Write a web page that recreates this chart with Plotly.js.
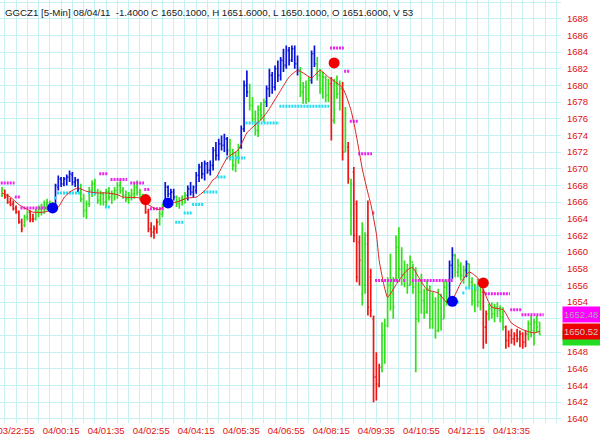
<!DOCTYPE html>
<html><head><meta charset="utf-8">
<script src="https://cdn.plot.ly/plotly-3.0.1.min.js"></script>
<style>html,body{margin:0;padding:0;background:#fff}#chart{width:600px;height:438px}</style>
</head><body><div id="chart"></div>
<script>
// ---- OHLC data (one entry per 5-minute bar, bar 0 = 03/22:30) ----
const barOpen = [
1666.8,1667.4,1666.7,1666.0,1665.8,1665.3,1664.8,1663.6,1663.2,1664.2,
1664.8,1664.0,1664.0,1664.8,1665.2,1665.4,1665.8,1665.9,1665.2,1665.6,
1667.8,1668.8,1668.2,1668.8,1669.0,1669.3,1668.4,1668.6,1667.6,1666.4,
1665.0,1665.8,1667.4,1668.2,1667.2,1666.2,1667.0,1666.0,1667.2,1666.6,
1667.0,1667.4,1668.0,1667.4,1666.8,1666.4,1666.8,1667.0,1667.8,1667.2,
1666.6,1666.0,1664.8,1662.8,1662.4,1662.8,1663.6,1664.6,1665.8,1667.8,
1667.0,1667.2,1666.6,1665.8,1666.2,1666.4,1666.8,1667.6,1667.2,1667.4,
1669.2,1670.2,1669.4,1670.6,1669.8,1670.4,1672.2,1671.6,1673.0,1672.8,
1673.6,1672.2,1671.4,1670.4,1671.4,1672.6,1674.8,1680.0,1679.2,1677.6,
1676.0,1674.6,1677.0,1676.4,1678.0,1679.6,1681.2,1679.8,1682.0,1681.2,
1683.0,1682.4,1684.2,1683.0,1684.4,1682.6,1681.8,1679.2,1679.8,1678.4,
1680.6,1683.8,1682.6,1681.2,1679.6,1681.0,1678.8,1680.2,1675.8,1680.2,
1679.0,1679.6,1672.0,1672.6,1662.6,1669.6,1665.8,1661.2,1655.0,1656.0,
1662.0,1657.0,1652.0,1645.0,1644.0,1646.2,1650.0,1651.2,1656.0,1655.0,
1656.8,1660.6,1658.0,1657.2,1657.8,1656.0,1658.8,1655.8,1652.0,1655.2,
1654.2,1652.8,1655.6,1652.0,1654.0,1650.6,1654.8,1652.0,1655.8,1654.2,
1658.4,1659.6,1657.6,1658.4,1657.2,1657.8,1658.6,1656.4,1654.2,1655.4,
1654.0,1655.2,1651.0,1652.6,1653.2,1652.6,1653.4,1653.0,1652.2,1651.0,
1649.4,1650.0,1649.6,1650.0,1649.6,1650.2,1649.2,1650.2,1651.4,1650.6,
1651.6,1651.6];
const barHigh = [
1667.8,1667.5,1667.0,1666.5,1666.2,1665.6,1665.0,1664.0,1664.5,1665.0,
1665.0,1664.6,1665.2,1665.6,1665.8,1666.2,1666.4,1666.2,1666.0,1668.2,
1669.2,1669.0,1669.0,1669.3,1669.8,1669.6,1669.0,1668.8,1668.2,1667.0,
1666.2,1667.8,1668.6,1668.8,1667.6,1667.4,1667.2,1667.6,1667.8,1667.4,
1667.8,1668.4,1668.8,1667.8,1667.4,1667.2,1667.6,1668.2,1668.6,1667.6,
1667.0,1666.4,1665.2,1663.6,1663.2,1664.0,1665.0,1665.8,1668.4,1668.0,
1667.6,1667.6,1666.8,1666.6,1666.8,1667.2,1668.0,1668.4,1668.0,1669.6,
1670.6,1670.8,1671.0,1670.8,1671.0,1672.6,1673.2,1673.6,1674.0,1674.2,
1673.8,1673.6,1672.4,1672.0,1673.0,1675.2,1680.6,1681.8,1680.2,1678.6,
1677.0,1677.6,1678.0,1678.4,1680.0,1682.0,1681.6,1682.4,1683.0,1683.4,
1684.4,1684.8,1684.6,1684.8,1684.8,1683.6,1682.2,1680.4,1680.6,1681.0,
1684.2,1684.8,1683.4,1682.0,1681.6,1681.2,1680.8,1681.0,1680.8,1681.2,
1680.6,1680.4,1677.4,1673.2,1668.8,1670.2,1666.2,1662.0,1663.6,1662.4,
1666.2,1658.0,1652.4,1648.0,1646.6,1651.6,1652.0,1657.0,1659.8,1657.0,
1662.0,1663.0,1660.6,1659.0,1658.6,1659.6,1658.6,1658.2,1656.4,1657.4,
1655.6,1656.6,1656.0,1655.2,1654.6,1655.6,1655.0,1656.6,1656.6,1659.0,
1660.6,1659.8,1659.2,1658.8,1658.4,1659.0,1658.6,1657.0,1656.2,1656.8,
1656.4,1655.6,1653.0,1653.8,1654.0,1653.8,1654.0,1653.6,1653.4,1651.2,
1650.6,1650.8,1650.4,1650.8,1650.6,1650.4,1650.6,1651.8,1652.4,1652.0,
1652.4,1651.6];
const barLow = [
1666.6,1666.4,1665.8,1665.5,1665.0,1664.6,1663.4,1662.4,1663.0,1663.8,
1663.6,1663.6,1663.8,1664.2,1664.4,1664.6,1665.0,1664.8,1664.8,1665.4,
1667.4,1667.8,1667.9,1668.0,1668.4,1668.0,1667.8,1667.2,1666.0,1664.2,
1664.0,1665.4,1666.6,1666.8,1665.8,1665.6,1665.6,1665.4,1666.2,1665.8,
1666.2,1666.4,1667.0,1666.4,1666.0,1665.8,1666.2,1666.4,1666.8,1666.2,
1665.8,1664.6,1662.4,1661.8,1661.6,1662.2,1663.2,1664.2,1665.6,1666.6,
1666.4,1666.2,1665.4,1665.2,1665.6,1665.8,1666.2,1666.8,1666.6,1667.0,
1668.4,1668.8,1668.6,1669.4,1669.2,1669.8,1671.0,1671.0,1672.2,1672.0,
1671.6,1671.0,1669.8,1669.6,1670.6,1672.4,1674.4,1678.6,1677.0,1675.6,
1674.0,1673.8,1675.8,1675.6,1677.4,1678.6,1679.0,1679.4,1680.4,1680.6,
1681.6,1682.0,1682.4,1682.8,1682.0,1681.2,1678.6,1677.8,1677.8,1678.0,
1680.2,1682.2,1680.6,1679.0,1678.4,1678.0,1678.0,1673.4,1675.4,1678.4,
1677.0,1671.0,1672.0,1668.2,1662.0,1661.2,1656.4,1656.0,1653.6,1655.0,
1652.4,1652.2,1642.0,1642.2,1643.8,1645.6,1646.6,1651.0,1653.0,1652.0,
1656.4,1656.8,1656.0,1655.8,1655.0,1656.0,1655.0,1645.6,1651.6,1652.6,
1652.0,1652.6,1650.8,1650.8,1649.6,1650.4,1650.6,1652.0,1653.6,1654.0,
1656.8,1657.0,1657.0,1656.6,1656.2,1657.0,1655.8,1653.6,1652.8,1653.4,
1653.0,1648.4,1649.0,1651.8,1652.0,1651.6,1652.2,1651.6,1650.6,1648.4,
1648.6,1649.0,1648.8,1649.2,1648.6,1648.4,1648.6,1649.4,1649.8,1648.8,
1650.4,1650.1];
const barClose = [
1667.6,1666.6,1666.0,1665.7,1665.2,1664.8,1663.6,1662.8,1664.2,1664.8,
1663.9,1664.0,1665.0,1665.3,1665.6,1665.9,1666.0,1665.3,1665.8,1668.0,
1668.8,1668.2,1668.8,1669.0,1669.4,1668.4,1668.6,1667.6,1666.4,1665.0,
1665.8,1667.4,1668.2,1667.2,1666.2,1667.0,1666.0,1667.2,1666.6,1667.0,
1667.4,1668.0,1667.4,1666.8,1666.4,1666.8,1667.0,1667.8,1667.2,1666.6,
1666.0,1664.8,1662.8,1662.4,1662.8,1663.6,1664.6,1665.4,1667.8,1667.0,
1667.2,1666.6,1665.8,1666.2,1666.4,1666.8,1667.6,1667.2,1667.8,1669.2,
1670.2,1669.4,1670.6,1669.8,1670.4,1672.2,1671.6,1673.0,1672.8,1673.6,
1672.2,1671.4,1670.4,1671.4,1672.6,1674.8,1680.0,1679.2,1677.6,1676.0,
1674.6,1677.0,1676.4,1678.0,1679.6,1681.2,1679.8,1682.0,1681.2,1683.0,
1682.4,1684.2,1683.0,1684.4,1682.6,1681.8,1679.2,1679.8,1678.4,1680.6,
1683.8,1682.6,1681.2,1679.6,1681.0,1678.8,1680.2,1675.8,1680.2,1679.0,
1679.6,1672.0,1676.6,1668.8,1668.2,1662.0,1657.0,1659.0,1662.8,1661.0,
1653.4,1653.0,1645.0,1644.2,1646.2,1650.0,1651.2,1656.0,1655.0,1653.4,
1660.6,1658.0,1657.2,1657.8,1656.0,1658.8,1655.8,1652.0,1655.2,1654.2,
1652.8,1655.6,1652.0,1654.0,1650.6,1654.8,1652.0,1655.8,1654.2,1658.4,
1659.6,1657.6,1658.4,1657.2,1657.8,1658.6,1656.4,1654.2,1655.4,1654.0,
1655.8,1651.0,1652.6,1653.2,1652.6,1653.4,1653.0,1652.2,1651.0,1649.4,
1650.0,1649.6,1650.0,1649.6,1650.2,1649.2,1650.2,1651.4,1650.6,1651.6,
1651.0,1650.1];
// trend colour of each bar: B = blue, G = green, R = red
const barTrend = ["G","RRRRRRR","GG","RR","GGGGGGG","BBBBBBBBB","GGGGGGGGGGGGGGGGGGGGGGG",
 "RRRRR","GG","BBBB","GGGG","BBBBBBBBBBBBBBB","GGGG","BBB","GGGGGG","BBBBBBBBBBBB","GGGG","BB",
 "GGGGG","R","GGG","R","G","R","G","RRR","GG","RRRRR","GGGGGGGGGGGGGGGGGGGGGGGG","BB","GGGG","B",
 "GGGGG","RR","GGGGGG","RRRRRRRR","GGGGG"].join("");

// moving average
const maBar = [0,3,6,8,11,15,18,20,22,24,27,30,34,37,41,43,49,51,54,56,59,62,66,69,73,75,76,80,84,87,92,94,99,102,105,107,110,113,116,121,124,126,128,130,131,133,134,136,137,140,143,145,146,148,151,155,158,160,163,166,169,171,174,178,181,185,189,191];
const maVal = [1667.1,1666.6,1665.7,1665.3,1664.8,1664.8,1665.1,1665.4,1666.5,1667.2,1667.7,1667.3,1667.1,1667.1,1666.9,1666.6,1666.5,1665.9,1665.3,1665.1,1665.9,1666.0,1666.5,1666.6,1667.7,1668.7,1668.9,1671.3,1672.3,1674.3,1675.9,1676.7,1679.4,1681.0,1681.8,1681.5,1680.9,1681.8,1681.0,1679.7,1677.0,1673.8,1670.0,1667.1,1665.8,1662.2,1659.0,1655.6,1654.6,1656.1,1657.5,1658.1,1658.1,1657.0,1655.5,1655.1,1654.0,1654.3,1656.3,1657.6,1656.9,1655.5,1653.4,1653.1,1651.5,1650.7,1650.3,1650.5];

// resistance levels (magenta) : first bar, last bar, price
const resStart = [0,5,7,35,39,46,51,53,117,122,124,127,132,133,143,146,172,181,185];
const resEnd   = [4,6,16,37,44,50,52,57,121,123,126,131,132,141,143,160,180,184,192];
const resLevel = [1668.3,1666.6,1665.3,1669.4,1668.7,1668.3,1667.5,1665.2,1684.5,1681.7,1675.7,1671.8,1664.7,1656.6,1656.6,1656.6,1655.0,1653.1,1652.48];
// support levels (cyan)
const supStart = [19,20,31,37,62,65,68,72,77,80,87,99,162,164,165,169];
const supEnd   = [19,28,33,38,64,67,71,76,79,86,98,116,162,164,167,169];
const supLevel = [1666.5,1667.1,1667.1,1665.4,1663.6,1664.7,1665.7,1667.2,1669.0,1671.3,1675.5,1677.5,1654.0,1655.1,1655.7,1655.7];

// signal dots
const buyBar = [18,59,160];   const buyPrice = [1665.3,1665.9,1654.1];
const sellBar = [51,118,171]; const sellPrice = [1666.3,1682.7,1656.3];

// axis labels
const labelBar = [5,21,37,53,69,85,101,117,133,149,165,181];
const labelText = ["03/22:55","04/00:15","04/01:35","04/02:55","04/04:15","04/05:35","04/06:55","04/08:15","04/09:35","04/10:55","04/12:15","04/13:35"];
const priceTicks = [1640,1642,1644,1646,1648,1650,1652,1654,1656,1658,1660,1662,1664,1666,1668,1670,1672,1674,1676,1678,1680,1682,1684,1686,1688,1690];
const titleText = "GGCZ1 [5-Min] 08/04/11\u00a0 -1.4000 C 1650.1000, H 1651.6000, L 1650.1000, O 1651.6000, V 53";
const lastPrice = 1650.1, maLast = 1650.52, resLast = 1652.48;

const COL = {B:"#0a14d8", G:"#33e01e", R:"#ee1515"};

function ohlcTrace(code){
  const x=[],o=[],h=[],l=[],c=[];
  for(let i=0;i<barOpen.length;i++){
    if(barTrend[i]===code){x.push(i);o.push(barOpen[i]);h.push(barHigh[i]);l.push(barLow[i]);c.push(barClose[i]);}
  }
  return {type:"ohlc", x:x, open:o, high:h, low:l, close:c, tickwidth:0.4,
    increasing:{line:{color:COL[code], width:1.7}}, decreasing:{line:{color:COL[code], width:1.7}},
    hoverinfo:"skip", showlegend:false};
}
function levelTrace(st, en, lv, color){
  const x=[], y=[];
  for(let k=0;k<st.length;k++){ x.push(st[k]-0.45, en[k]+0.45, null); y.push(lv[k], lv[k], null); }
  return {type:"scatter", mode:"lines", x:x, y:y, line:{color:color, width:3, dash:"2px,1px"},
    hoverinfo:"skip", showlegend:false, connectgaps:false};
}

const traces = [
  levelTrace(supStart, supEnd, supLevel, "#22dcef"),
  levelTrace(resStart, resEnd, resLevel, "#ee22ee"),
  ohlcTrace("G"), ohlcTrace("B"), ohlcTrace("R"),
  {type:"scatter", mode:"lines", x:maBar, y:maVal, line:{color:"#e02020", width:1, shape:"spline", smoothing:0.6}, hoverinfo:"skip", showlegend:false},
  {type:"scatter", mode:"markers", x:buyBar, y:buyPrice, marker:{color:"#0000f0", size:11}, hoverinfo:"skip", showlegend:false},
  {type:"scatter", mode:"markers", x:sellBar, y:sellPrice, marker:{color:"#f00000", size:11}, hoverinfo:"skip", showlegend:false}
];

const gridVals=[], gridText=[];
for(let v=1; v<=197; v+=4){ gridVals.push(v); const k=labelBar.indexOf(v); gridText.push(k>=0?labelText[k]:""); }
// price labels hidden where the right-hand price boxes cover them
const priceText = priceTicks.map(p => (p===1650||p===1652) ? "" : String(p));

const layout = {
  width:600, height:438,
  margin:{l:0, r:39, t:0, b:15},
  paper_bgcolor:"#ffffff", plot_bgcolor:"#ffffff",
  font:{family:"Liberation Sans, Arial, sans-serif", size:9.5, color:"#e01010"},
  showlegend:false,
  xaxis:{range:[-0.71,198.6], tickmode:"array", tickvals:gridVals, ticktext:gridText,
    showgrid:true, gridcolor:"#c6f1f3", gridwidth:1, zeroline:false, ticks:"", rangeslider:{visible:false},
    ticklabeloverflow:"allow", tickfont:{size:9.5, color:"#e01010"}, fixedrange:true},
  yaxis:{range:[1639.5,1690.25], side:"right", tickmode:"array", tickvals:priceTicks, ticktext:priceText,
    showgrid:true, gridcolor:"#c6f1f3", zeroline:false, ticks:"", tickfont:{size:9.5, color:"#e01010"},
    ticklabelstandoff:5, fixedrange:true},
  annotations:[
    {xref:"paper", yref:"paper", x:0, y:1, xanchor:"left", yanchor:"top", xshift:3, yshift:-5, showarrow:false,
     text:titleText, font:{size:9.7, color:"#202020"}},
    {xref:"paper", yref:"y", x:1, y:lastPrice, xanchor:"left", yanchor:"middle", xshift:1, yshift:-3, showarrow:false,
     text:"", bgcolor:"#22dd22", width:38, height:13},
    {xref:"paper", yref:"y", x:1, y:maLast, xanchor:"left", yanchor:"middle", xshift:1, showarrow:false,
     text:String(maLast), bgcolor:"#ee0000", font:{size:9.5, color:"#d0c8c8"}, width:38, height:13, align:"left"},
    {xref:"paper", yref:"y", x:1, y:resLast, xanchor:"left", yanchor:"middle", xshift:1, showarrow:false,
     text:String(resLast), bgcolor:"#ff00ff", font:{size:9.5, color:"#b0a8c0"}, width:38, height:13, align:"left"}
  ]
};
Plotly.newPlot("chart", traces, layout, {staticPlot:true, displayModeBar:false});
</script></body></html>
